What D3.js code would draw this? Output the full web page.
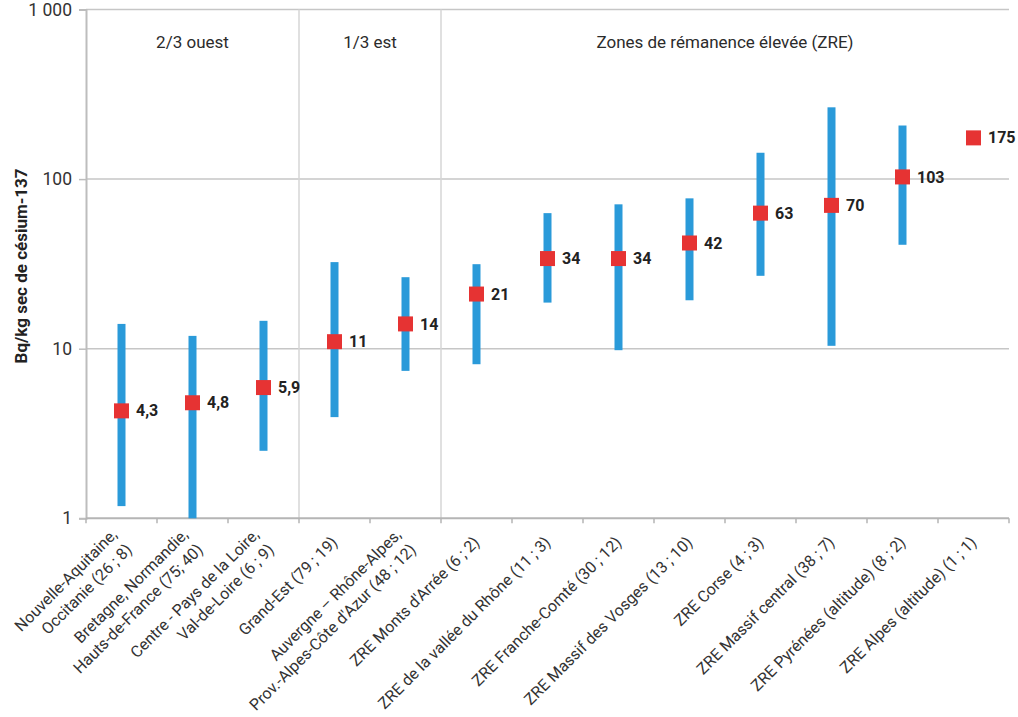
<!DOCTYPE html>
<html lang="fr">
<head>
<meta charset="utf-8">
<script src="https://cdn.jsdelivr.net/npm/d3@7"></script>
<style>
  html, body { margin: 0; padding: 0; background: #fff; }
  svg { display: block; font-family: Roboto, "Noto Sans", sans-serif; }
</style>
</head>
<body>
<svg id="chart" width="1018" height="717"></svg>
<script>
// Catégories (lignes de libellé) — nombre de sites et d'échantillons entre parenthèses
const categories = [
  ["Nouvelle-Aquitaine,", "Occitanie (26 ; 8)"],
  ["Bretagne, Normandie,", "Hauts-de-France (75; 40)"],
  ["Centre - Pays de la Loire,", "Val-de-Loire (6 ; 9)"],
  ["Grand-Est (79 ; 19)"],
  ["Auvergne \u2013 Rhône-Alpes,", "Prov.-Alpes-Côte d'Azur (48 ; 12)"],
  ["ZRE Monts d'Arrée (6 ; 2)"],
  ["ZRE de la vallée du Rhône (11 ; 3)"],
  ["ZRE Franche-Comté (30 ; 12)"],
  ["ZRE Massif des Vosges (13 ; 10)"],
  ["ZRE Corse (4 ; 3)"],
  ["ZRE Massif central (38 ; 7)"],
  ["ZRE Pyrénées (altitude) (8 ; 2)"],
  ["ZRE Alpes (altitude) (1 ; 1)"]
];

// Activité moyenne (Bq/kg sec)
const means = [4.3, 4.8, 5.9, 11, 14, 21, 34, 34, 42, 63, 70, 103, 175];
// Minimum et maximum (null : un seul échantillon)
const mins = [1.18, 1.0, 2.5, 3.95, 7.4, 8.1, 18.7, 9.8, 19.3, 26.9, 10.4, 41, null];
const maxs = [14, 11.9, 14.6, 32.4, 26.4, 31.5, 63, 71, 77, 143, 265, 207, null];

// Regroupements de zones (indices de début et de fin)
const groups = [
  { label: "2/3 ouest", from: 0, to: 2 },
  { label: "1/3 est", from: 3, to: 4 },
  { label: "Zones de rémanence élevée (ZRE)", from: 5, to: 12 }
];

const yTicks = [1, 10, 100, 1000];
const yTitle = "Bq/kg sec de césium-137";

const fr = d3.formatLocale({ decimal: ",", thousands: "\u00a0", grouping: [3], currency: ["", " €"] });
const fmtTick = fr.format(",d");
const fmtVal = fr.format(",~r");

const svg = d3.select("#chart");
const mLeft = 86, mRight = 1009, mTop = 9.5, mBottom = 518.3;

const idx = d3.range(categories.length);
const x = d3.scaleBand().domain(idx).range([mLeft, mRight]).padding(0);
const y = d3.scaleLog().domain([1, 1000]).range([mBottom, mTop]);
const cx = i => x(i) + x.bandwidth() / 2;

// Grille horizontale
svg.append("g")
  .selectAll("line")
  .data(yTicks.filter(t => t > 1))
  .join("line")
  .attr("x1", mLeft).attr("x2", mRight)
  .attr("y1", d => y(d)).attr("y2", d => y(d))
  .attr("stroke", "#c6c6c6").attr("stroke-width", 1.5);

// Séparateurs de groupes
svg.append("g")
  .selectAll("line")
  .data(groups.slice(1))
  .join("line")
  .attr("x1", d => x(d.from)).attr("x2", d => x(d.from))
  .attr("y1", mTop).attr("y2", mBottom)
  .attr("stroke", "#d6d6d6").attr("stroke-width", 1.5);

// Libellés de groupes
svg.append("g")
  .selectAll("text")
  .data(groups)
  .join("text")
  .attr("x", d => (x(d.from) + x(d.to) + x.bandwidth()) / 2)
  .attr("y", 42)
  .attr("dy", "0.35em")
  .attr("text-anchor", "middle")
  .attr("font-size", 17)
  .attr("fill", "#2b2b2b")
  .text(d => d.label);

// Axe vertical
const yAxis = svg.append("g")
  .attr("transform", `translate(${mLeft},0)`)
  .call(d3.axisLeft(y).tickValues(yTicks).tickFormat(fmtTick).tickSize(7).tickPadding(7));
yAxis.select(".domain").attr("stroke", "#bdbdbd").attr("stroke-width", 2);
yAxis.selectAll(".tick line").attr("stroke", "#bdbdbd").attr("stroke-width", 1.5);
yAxis.selectAll(".tick text").attr("font-size", 17.5).attr("fill", "#333").attr("font-family", "Roboto, sans-serif");

svg.append("text")
  .attr("transform", `translate(21,${(mTop + mBottom) / 2 + 2}) rotate(-90)`)
  .attr("text-anchor", "middle")
  .attr("dy", "0.35em")
  .attr("font-size", 17)
  .attr("font-weight", "bold")
  .attr("fill", "#222")
  .text(yTitle);

// Axe horizontal
const xg = svg.append("g").attr("transform", `translate(0,${mBottom})`);
xg.append("line").attr("x1", mLeft).attr("x2", mRight)
  .attr("stroke", "#b5b5b5").attr("stroke-width", 2);
xg.selectAll("line.tk")
  .data(d3.range(categories.length + 1))
  .join("line").attr("class", "tk")
  .attr("x1", i => mLeft + i * x.bandwidth()).attr("x2", i => mLeft + i * x.bandwidth())
  .attr("y1", 0).attr("y2", 5)
  .attr("stroke", "#b5b5b5").attr("stroke-width", 1.5);

const lh = 21;
const lab = xg.selectAll("g.lab")
  .data(idx)
  .join("g").attr("class", "lab")
  .attr("transform", i => `translate(${cx(i)},21) rotate(-45)`);
lab.append("text")
  .attr("text-anchor", "end")
  .attr("font-size", 16)
  .attr("fill", "#333")
  .each(function (i) {
    const lines = categories[i];
    const n = lines.length;
    d3.select(this).selectAll("tspan")
      .data(lines)
      .join("tspan")
      .attr("x", 0)
      .attr("y", (d, k) => (k - (n - 1) / 2) * lh)
      .attr("dy", "0.35em")
      .text(d => d);
  });

// Étendues min–max
svg.append("g")
  .selectAll("rect")
  .data(idx.filter(i => mins[i] != null))
  .join("rect")
  .attr("x", i => cx(i) - 4)
  .attr("width", 8)
  .attr("y", i => y(maxs[i]))
  .attr("height", i => y(mins[i]) - y(maxs[i]))
  .attr("fill", "#2a9ad9");

// Moyennes
const s = 15;
svg.append("g")
  .selectAll("rect")
  .data(idx)
  .join("rect")
  .attr("x", i => cx(i) - s / 2)
  .attr("y", i => y(means[i]) - s / 2)
  .attr("width", s).attr("height", s)
  .attr("fill", "#e63333");

svg.append("g")
  .selectAll("text")
  .data(idx)
  .join("text")
  .attr("x", i => cx(i) + s / 2 + 7)
  .attr("y", i => y(means[i]))
  .attr("dy", "0.35em")
  .attr("font-size", 16)
  .attr("font-weight", "bold")
  .attr("fill", "#222")
  .text(i => fmtVal(means[i]));
</script>
</body>
</html>
